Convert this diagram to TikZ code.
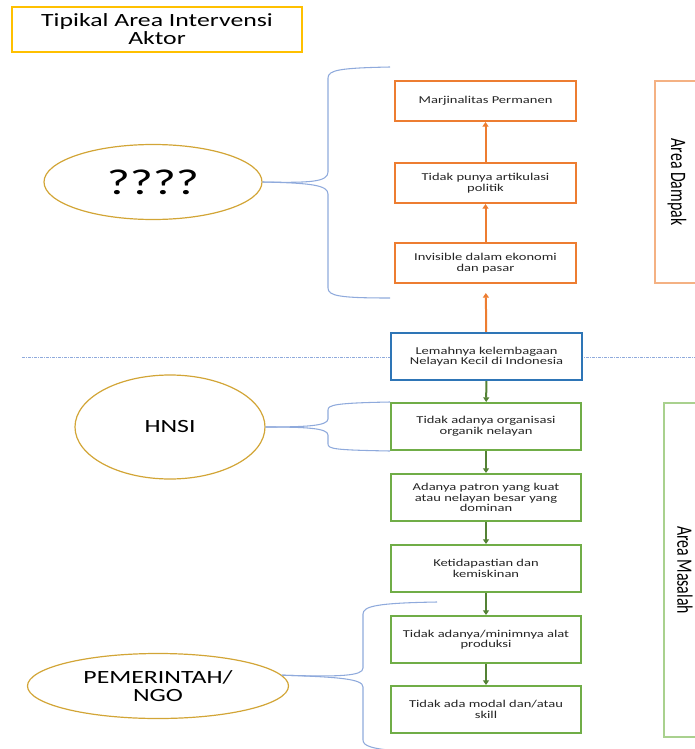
\documentclass[tikz,border=0pt]{standalone}
\usepackage{fontspec}
\setmainfont{Carlito}[FakeStretch=1.38]
\newfontfamily\areafont{Carlito}[FakeStretch=0.72]
\usetikzlibrary{shapes.geometric,arrows.meta}
\definecolor{kuning}{HTML}{FFC000}
\definecolor{emas}{HTML}{D2A536}
\definecolor{oranye}{HTML}{ED7D31}
\definecolor{oranyemuda}{HTML}{F4B183}
\definecolor{biru}{HTML}{2E75B6}
\definecolor{birumuda}{HTML}{8FAADC}
\definecolor{hijau}{HTML}{70AD47}
\definecolor{hijaumuda}{HTML}{A9D18E}
\definecolor{hijautua}{HTML}{548235}
\definecolor{teks}{HTML}{262626}
\tikzset{
  judul/.style={draw=kuning, line width=1.1pt, minimum width=217.5pt, minimum height=33.75pt, align=center, font=\fontsize{14}{13.5}\selectfont},
  aktor/.style={ellipse, draw=emas, line width=0.9pt, inner sep=0pt, align=center, font=\fontsize{14}{13}\selectfont},
  kotak/.style={fill=white, line width=1.5pt, inner sep=1pt, align=center, text=teks, font=\fontsize{7.9}{7.9}\selectfont},
  dampak/.style={kotak, draw=oranye, minimum width=135.75pt, minimum height=30pt},
  masalah/.style={kotak, draw=hijau, minimum width=142.5pt, minimum height=35.25pt},
  pusat/.style={kotak, draw=biru, line width=1.7pt, minimum width=143.25pt, minimum height=35.25pt},
  area/.style={rotate=-90, line width=0.9pt, inner sep=0pt, font=\areafont\fontsize{16.5}{16.5}\selectfont},
  kurung/.style={draw=birumuda, line width=0.8pt},
  panahO/.style={draw=oranye, line width=1.5pt, -{Triangle[length=3.5pt,width=4.5pt]}},
  panahH/.style={draw=hijautua, line width=1.5pt, -{Triangle[length=3.5pt,width=4.5pt]}},
  batas/.style={draw=birumuda, line width=0.5pt, dash pattern=on 2pt off 1pt on 0.5pt off 1pt}
}
\begin{document}
\begin{tikzpicture}[x=0.75pt,y=-0.75pt]
\useasboundingbox (0,0) rectangle (695,749);
\clip (0,0) rectangle (695,749);
\node[judul] (jd) at (157,29.5) {Tipikal Area Intervensi\\Aktor};
%% aktor
\node[aktor, minimum width=163.5pt, minimum height=56.25pt, font=\fontsize{27}{27}\selectfont] (a1) at (153,182) {????};
\node[aktor, minimum width=142.5pt, minimum height=78pt] (a2) at (170,427) {HNSI};
\node[aktor, minimum width=195.75pt, minimum height=48.75pt] (a3) at (158,686) {PEMERINTAH/\\NGO};
%% garis batas
\draw[batas] (22,357) -- (695,357);
%% area dampak
\node[dampak] (d1) at (485.5,101) {Marjinalitas Permanen};
\node[dampak] (d2) at (485.5,183) {Tidak punya artikulasi\\politik};
\node[dampak] (d3) at (485.5,263) {Invisible dalam ekonomi\\dan pasar};
\node[pusat] (lk) at (486.5,356.5) {Lemahnya kelembagaan\\Nelayan Kecil di Indonesia};
\draw[panahO] (d3) -- (d2); \draw[panahO] (d2) -- (d1);
\draw[panahO, shorten >=6.75pt] (lk) -- (d3);
%% area masalah
\node[masalah] (m1) at (486,426.5) {Tidak adanya organisasi\\organik nelayan};
\node[masalah] (m2) at (486,497.5) {Adanya patron yang kuat\\atau nelayan besar yang\\dominan};
\node[masalah] (m3) at (486,568.5) {Ketidapastian dan\\kemiskinan};
\node[masalah] (m4) at (486,639.5) {Tidak adanya/minimnya alat\\produksi};
\node[masalah] (m5) at (486,709.5) {Tidak ada modal dan/atau\\skill};
\draw[panahH] (lk) -- (m1); \draw[panahH] (m1) -- (m2); \draw[panahH] (m2) -- (m3);
\draw[panahH] (m3) -- (m4); \draw[panahH] (m4) -- (m5);
%% kotak area
\node[area, draw=oranyemuda, minimum width=151.5pt, minimum height=33pt] (ad) at (677,182) {Area Dampak};
\node[area, draw=hijaumuda, minimum width=250.5pt, minimum height=31.5pt] (am) at (685,570) {Area Masalah};
%% kurung kurawal
\coordinate (t1) at (390,67); \coordinate (b1) at (390,298);
\coordinate (t3) at (437,602); \coordinate (b3) at (400,751);
\draw[kurung] (a1.east) .. controls (310,183) and (328,182) .. (328,172) -- (328,78) .. controls (328,70) and (340,68) .. (t1);
\draw[kurung] (a1.east) .. controls (310,183) and (328,185) .. (328,194) -- (328,288) .. controls (328,296) and (340,298) .. (b1);
\draw[kurung] (a2.east) .. controls (305,427) and (328,426) .. (328,419) -- (328,410) .. controls (328,405) and (335,403) .. (m1.north west);
\draw[kurung] (a2.east) .. controls (305,427) and (328,428) .. (328,435) -- (328,444) .. controls (328,449) and (335,450) .. (m1.south west);
\draw[kurung] (a3.5) .. controls (340,677) and (363,676) .. (363,668) -- (363,614) .. controls (363,606) and (378,603) .. (t3);
\draw[kurung] (a3.5) .. controls (340,677) and (363,679) .. (363,687) -- (363,740) .. controls (363,746) and (372,749) .. (b3);
\end{tikzpicture}
\end{document}
